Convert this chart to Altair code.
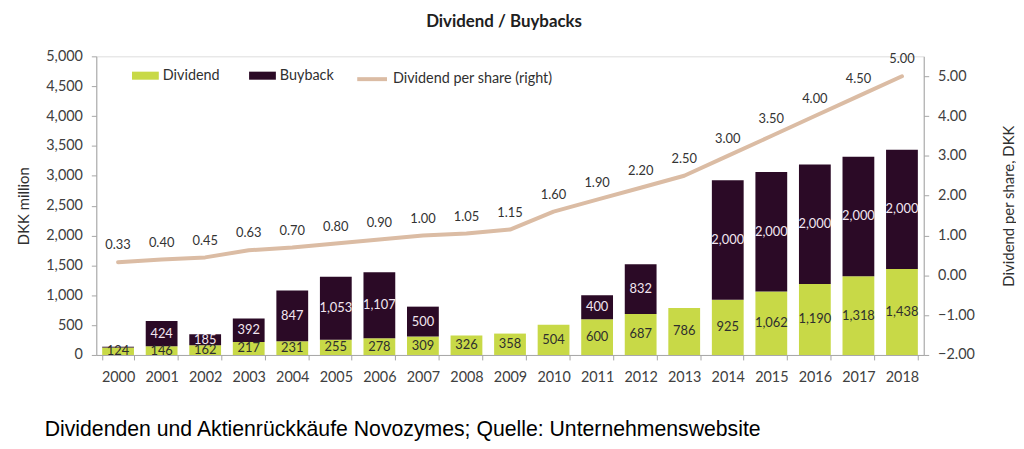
import altair as alt
import pandas as pd

years = [str(y) for y in range(2000, 2019)]
dividend = [124, 146, 162, 217, 231, 255, 278, 309, 326, 358, 504, 600, 687, 786, 925, 1062, 1190, 1318, 1438]
buyback = [14, 424, 185, 392, 847, 1053, 1107, 500, 0, 0, 0, 400, 832, 0, 2000, 2000, 2000, 2000, 2000]
dps = [0.33, 0.40, 0.45, 0.63, 0.70, 0.80, 0.90, 1.00, 1.05, 1.15, 1.60, 1.90, 2.20, 2.50, 3.00, 3.50, 4.00, 4.50, 5.00]

series_names = ["Dividend", "Buyback"]
line_name = "Dividend per share (right)"
title_text = "Dividend / Buybacks"
caption_text = "Dividenden und Aktienrückkäufe Novozymes; Quelle: Unternehmenswebsite"

rows = []
for y, d, b in zip(years, dividend, buyback):
    rows.append({"year": y, "series": "Dividend", "ord": 0, "value": d, "start": 0, "end": d, "mid": d / 2})
    rows.append({"year": y, "series": "Buyback", "ord": 1, "value": b, "start": d, "end": d + b, "mid": d + b / 2})
bars_df = pd.DataFrame(rows)
line_df = pd.DataFrame({"year": years, "dps": dps, "series": line_name})
cap_df = pd.DataFrame({"t": [caption_text]})

FONT = "Lato"
DIV_C = "#c8d947"
BB_C = "#2b0a26"
LINE_C = "#dbbca4"

x_enc = alt.X(
    "year:N",
    title=None,
    scale=alt.Scale(paddingInner=0.27, paddingOuter=0.135),
    axis=alt.Axis(labelAngle=0, labelFontSize=14.5, labelColor="#404040", labelPadding=11,
                  domainColor="#a6a6a6", tickColor="#a6a6a6", tickSize=5, tickBand="extent"),
)

left_scale = alt.Scale(domain=[0, 5000], nice=False)
left_axis = alt.Axis(values=list(range(0, 5001, 500)), labelExpr="format(datum.value, ',')",
                     labelFontSize=14.5, labelColor="#404040", labelPadding=9,
                     domainColor="#a6a6a6", tickColor="#a6a6a6", tickSize=5, grid=False,
                     titleFontSize=15, titleFontWeight="normal", titleColor="#303030", titlePadding=14)

bars = alt.Chart(bars_df).mark_bar().encode(
    x=x_enc,
    y=alt.Y("start:Q", scale=left_scale, axis=left_axis, title="DKK million"),
    y2="end:Q",
    color=alt.Color("series:N", scale=alt.Scale(domain=series_names, range=[DIV_C, BB_C]),
                    legend=alt.Legend(title=None, orient="none", legendX=36, legendY=6, direction="horizontal",
                                      symbolType="M-1,-0.3H1V0.3H-1Z", symbolSize=729, symbolStrokeWidth=0,
                                      labelFontSize=14.5, labelColor="#303030", labelFont=FONT,
                                      columnPadding=29, labelOffset=4, labelLimit=300)),
    order=alt.Order("ord:Q"),
)

bar_text = alt.Chart(bars_df).transform_filter("datum.value >= 100").mark_text(
    fontSize=13, font=FONT, baseline="middle"
).encode(
    x=alt.X("year:N"),
    y=alt.Y("mid:Q", scale=left_scale, axis=left_axis, title="DKK million"),
    text=alt.Text("value:Q", format=","),
    color=alt.condition("datum.series == 'Dividend'", alt.value("#2e2e2e"), alt.value("#f2e6f0")),
)

right_scale = alt.Scale(domain=[-2, 5.5], nice=False)
right_axis = alt.Axis(orient="right", values=[-2, -1, 0, 1, 2, 3, 4, 5], labelExpr="format(datum.value, '.2f')",
                      labelFontSize=14.5, labelPadding=9,
                      labelColor="#404040", domainColor="#a6a6a6", tickColor="#a6a6a6", tickSize=5, grid=False,
                      titleFontSize=15, titleFontWeight="normal", titleColor="#303030", titleAngle=270,
                      titlePadding=42)

line = alt.Chart(line_df).mark_line(strokeWidth=4, strokeCap="round", strokeJoin="round").encode(
    x=alt.X("year:N"),
    y=alt.Y("dps:Q", scale=right_scale, axis=right_axis, title="Dividend per share, DKK"),
    stroke=alt.Stroke("series:N", scale=alt.Scale(domain=[line_name], range=[LINE_C]),
                      legend=alt.Legend(title=None, orient="none", legendX=261, legendY=6,
                                        symbolType="stroke", symbolSize=900, symbolStrokeWidth=4,
                                        labelFontSize=14.5, labelColor="#303030", labelFont=FONT,
                                        labelOffset=4, labelLimit=300)),
)

line_text = alt.Chart(line_df).mark_text(fontSize=13, font=FONT, dy=-17, color="#333333").encode(
    x=alt.X("year:N"),
    y=alt.Y("dps:Q", scale=right_scale, axis=right_axis, title="Dividend per share, DKK"),
    text=alt.Text("dps:Q", format=".2f"),
)

caption = alt.Chart(cap_df).mark_text(
    align="left", baseline="middle", font="Liberation Sans", fontSize=21.4, color="#000000"
).encode(text="t:N", x=alt.value(-52), y=alt.value(377))

left = alt.layer(bars, bar_text)
right = alt.layer(line, line_text)

chart = alt.layer(left, right, caption).resolve_scale(y="independent", color="independent").properties(
    width=834, height=301,
    title=alt.TitleParams(title_text, anchor="middle", fontSize=17, fontWeight="bold", font=FONT,
                          color="#202020", offset=18, frame="group", dx=-6),
    autosize=alt.AutoSizeParams(type="none"),
    padding={"left": 89, "top": 47, "right": 93, "bottom": 85},
).configure_view(stroke=None).configure(font=FONT)

chart.save("out.html", embed_options={"renderer": "svg", "actions": False})
